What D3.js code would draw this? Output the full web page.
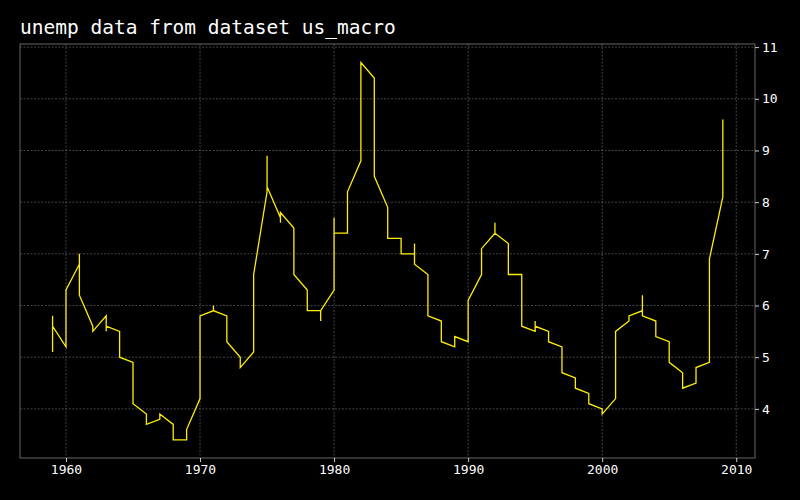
<!DOCTYPE html>
<html><head><meta charset="utf-8">
<script src="https://cdn.jsdelivr.net/npm/d3@7"></script>
<style>body{margin:0;background:#000}text{font-family:"DejaVu Sans Mono",monospace}</style>
</head><body><svg id="c" width="800" height="500"></svg>
<script>
const years = d3.range(1959, 2010);
const unemp = [
  [5.8,5.1,5.3,5.6],[5.2,5.2,5.6,6.3],[6.8,7.0,6.8,6.2],[5.6,5.5,5.6,5.5],
  [5.8,5.7,5.5,5.6],[5.5,5.2,5.0,5.0],[4.9,4.7,4.4,4.1],[3.9,3.8,3.8,3.7],
  [3.8,3.8,3.8,3.9],[3.7,3.5,3.5,3.4],[3.4,3.4,3.6,3.6],[4.2,4.8,5.2,5.8],
  [5.9,5.9,6.0,5.9],[5.8,5.7,5.6,5.3],[5.0,4.9,4.8,4.8],[5.1,5.2,5.6,6.6],
  [8.2,8.9,8.5,8.3],[7.7,7.6,7.7,7.8],[7.5,7.1,6.9,6.6],[6.3,6.0,6.0,5.9],
  [5.9,5.7,5.9,5.9],[6.3,7.3,7.7,7.4],[7.4,7.4,7.4,8.2],[8.8,9.4,9.9,10.7],
  [10.4,10.1,9.4,8.5],[7.9,7.5,7.4,7.3],[7.3,7.3,7.2,7.0],[7.0,7.2,7.0,6.8],
  [6.6,6.3,6.0,5.8],[5.7,5.5,5.5,5.3],[5.2,5.2,5.3,5.4],[5.3,5.3,5.7,6.1],
  [6.6,6.8,6.9,7.1],[7.4,7.6,7.6,7.4],[7.2,7.1,6.8,6.6],[6.6,6.2,6.0,5.6],
  [5.5,5.7,5.7,5.6],[5.5,5.5,5.3,5.3],[5.2,5.0,4.9,4.7],[4.6,4.4,4.5,4.4],
  [4.3,4.3,4.2,4.1],[4.0,3.9,4.0,3.9],[4.2,4.4,4.8,5.5],[5.7,5.8,5.7,5.8],
  [5.9,6.2,6.1,5.8],[5.7,5.6,5.4,5.4],[5.3,5.1,5.0,4.9],[4.7,4.7,4.7,4.4],
  [4.5,4.5,4.7,4.8],[4.9,5.4,6.1,6.9],[8.1,9.2,9.6]
];
const xTicks = [1960,1970,1980,1990,2000,2010];
const yTicks = [4,5,6,7,8,9,10,11];

const pts = [];
years.forEach((y,i)=>unemp[i].forEach(v=>pts.push([y,v])));

const L=20,R=755,T=44,B=458;
const svg=d3.select('#c');
const x=d3.scaleLinear().domain([1956.57,2011.4]).range([L,R]);
const y=d3.scaleLinear().domain([3.05,11.06]).range([B,T]);

svg.append('text').attr('x',20).attr('y',34).attr('fill','#fff').attr('font-size',19.5).text('unemp data from dataset us_macro');

const g=svg.append('g');
g.selectAll('.gx').data(xTicks).join('line').attr('x1',d=>x(d)).attr('x2',d=>x(d)).attr('y1',T).attr('y2',B)
  .attr('stroke','#888').attr('stroke-width',0.5).attr('stroke-dasharray','2,1.5');
g.selectAll('.gy').data(yTicks).join('line').attr('y1',d=>y(d)).attr('y2',d=>y(d)).attr('x1',L).attr('x2',R)
  .attr('stroke','#888').attr('stroke-width',0.5).attr('stroke-dasharray','2,1.5');
svg.append('rect').attr('x',L).attr('y',T).attr('width',R-L).attr('height',B-T).attr('fill','none').attr('stroke','#666');

const ax=svg.append('g').attr('transform',`translate(0,${B})`).call(d3.axisBottom(x).tickValues(xTicks).tickFormat(d3.format('d')).tickSize(4));
const ay=svg.append('g').attr('transform',`translate(${R},0)`).call(d3.axisRight(y).tickValues(yTicks).tickSize(4));
[ax,ay].forEach(a=>{a.select('.domain').remove();a.selectAll('line').attr('stroke','#ccc');a.selectAll('text').attr('fill','#fff').attr('font-size',13).style('font-family','DejaVu Sans Mono');});

svg.append('path').datum(pts).attr('fill','none').attr('stroke','#ffee00').attr('stroke-width',1.3)
  .attr('d',d3.line().x(d=>x(d[0])).y(d=>y(d[1])));
</script></body></html>
